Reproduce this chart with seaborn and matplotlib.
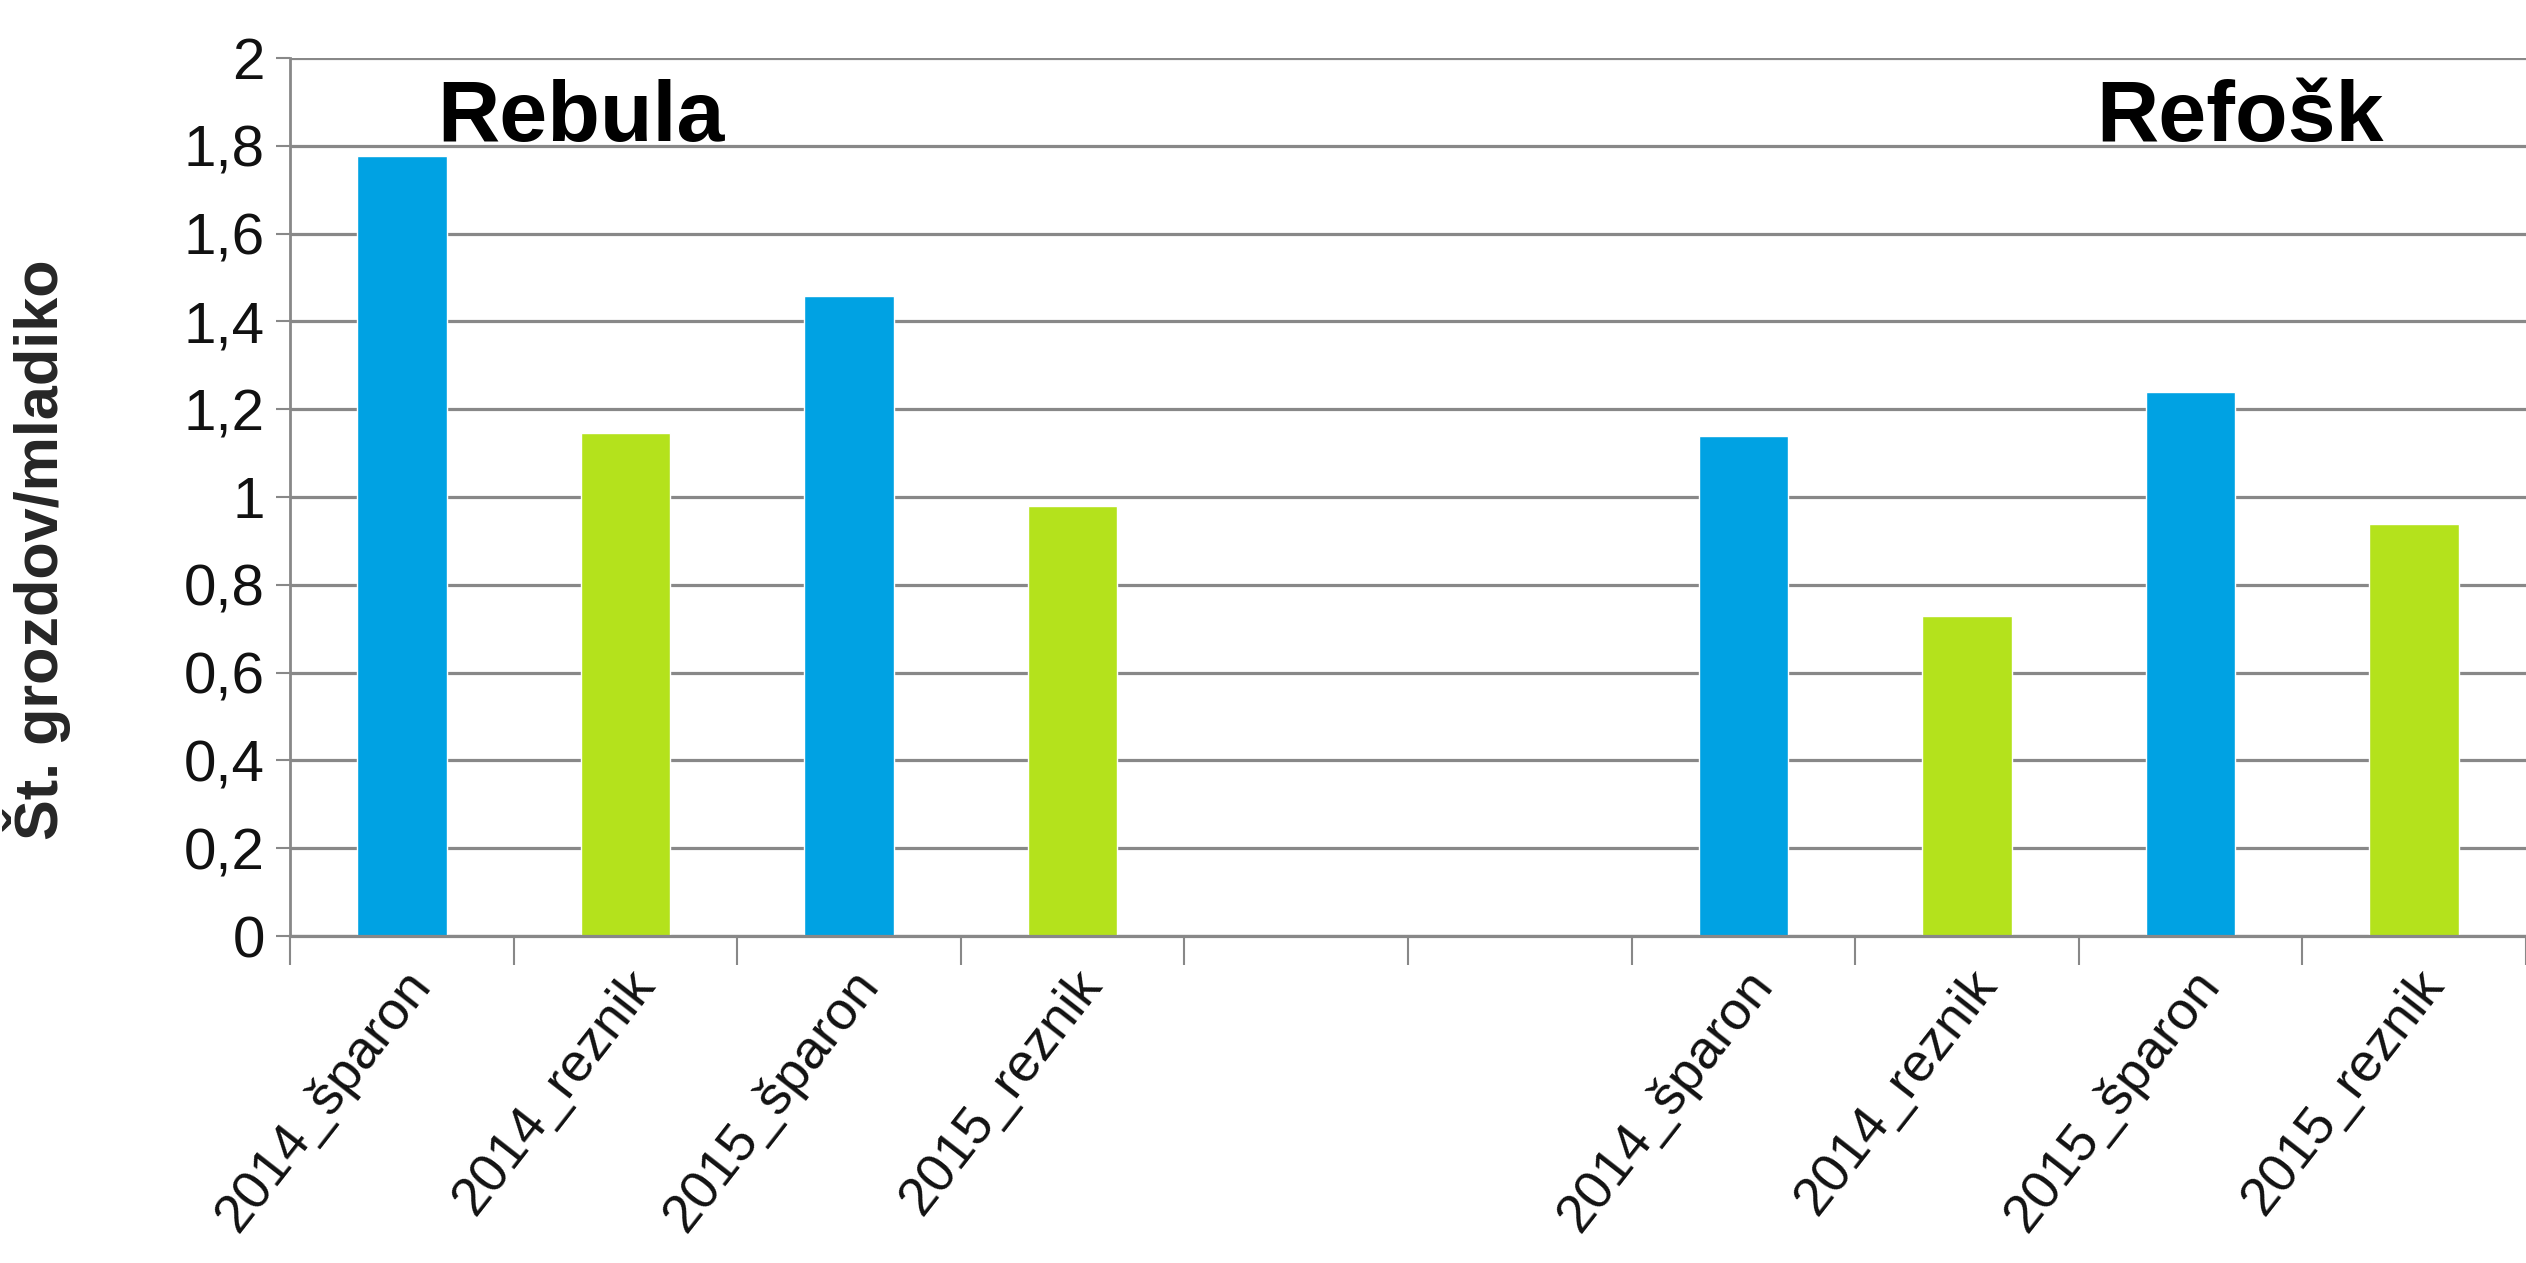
import matplotlib
matplotlib.use("Agg")
import matplotlib.pyplot as plt
import matplotlib.transforms as mtransforms
import seaborn as sns
import pandas as pd
import numpy as np
from matplotlib.ticker import FixedLocator, FuncFormatter

# ---- data ----
categories = ["R_2014_sp", "R_2014_re", "R_2015_sp", "R_2015_re", "gap1", "gap2",
              "F_2014_sp", "F_2014_re", "F_2015_sp", "F_2015_re"]
tick_labels = ["2014_šparon", "2014_reznik", "2015_šparon", "2015_reznik", "", "",
               "2014_šparon", "2014_reznik", "2015_šparon", "2015_reznik"]
values = [1.776, 1.145, 1.457, 0.980, np.nan, np.nan, 1.138, 0.730, 1.240, 0.939]
pruning = ["šparon", "reznik", "šparon", "reznik", "šparon", "reznik",
           "šparon", "reznik", "šparon", "reznik"]
group_titles = ["Rebula", "Refošk"]
y_label = "Št. grozdov/mladiko"

blue = "#00A2E3"
green = "#B4E21C"
grid_gray = "#888888"

df = pd.DataFrame({"cat": categories, "val": values, "type": pruning})

sns.set_theme(style="white")
plt.rcParams['font.family'] = ['Liberation Sans', 'DejaVu Sans']

fig = plt.figure(figsize=(25.26, 12.63), dpi=100)
ax = fig.add_axes([0.1148, 0.2589, 0.8852, 0.6952])

sns.barplot(data=df, x="cat", y="val", hue="type", order=categories,
            palette={"šparon": blue, "reznik": green}, dodge=False,
            width=0.4, legend=False, ax=ax, saturation=1, errorbar=None)

ax.set_xlim(-0.5, 9.5)
ax.set_ylim(0, 2)
ax.yaxis.set_major_locator(FixedLocator(np.round(np.arange(0, 2.01, 0.2), 1)))


def fmt(v, pos):
    v = round(v, 1)
    if abs(v - round(v)) < 1e-9:
        return str(int(round(v)))
    return f"{v:.1f}".replace(".", ",")


ax.yaxis.set_major_formatter(FuncFormatter(fmt))
ax.yaxis.grid(True, color=grid_gray, linewidth=2.3)
ax.set_axisbelow(True)

ax.xaxis.set_major_locator(FixedLocator(range(10)))
ax.set_xticklabels(tick_labels, rotation=52, ha="right", rotation_mode="anchor",
                   fontsize=39, color="#111111")
offset = mtransforms.ScaledTranslation(-14 / 100, 0, fig.dpi_scale_trans)
for lab in ax.get_xticklabels():
    lab.set_transform(lab.get_transform() + offset)
ax.xaxis.set_minor_locator(FixedLocator(np.arange(-0.5, 10, 1.0)))
ax.tick_params(axis="x", which="major", length=0, pad=18)
ax.tick_params(axis="x", which="minor", length=21, width=1.5, color=grid_gray, bottom=True)
ax.tick_params(axis="y", which="major", length=10, width=1.5, color=grid_gray, left=True,
               labelsize=42, pad=8, labelcolor="#111111")

for s in ["top", "right"]:
    ax.spines[s].set_visible(False)
ax.spines["left"].set_color(grid_gray)
ax.spines["left"].set_linewidth(2)
ax.spines["bottom"].set_color(grid_gray)
ax.spines["bottom"].set_linewidth(2.3)

ax.set_xlabel("")
ax.set_ylabel(y_label, fontsize=44, fontweight="bold")
ax.yaxis.set_label_coords(-0.098, 0.44)

ax.text(0.16, 1.81, group_titles[0], fontsize=62, fontweight="bold", va="baseline", ha="left",
        color="black")
ax.text(7.58, 1.81, group_titles[1], fontsize=62, fontweight="bold", va="baseline", ha="left",
        color="black")

fig.savefig("out.png", dpi=100)
